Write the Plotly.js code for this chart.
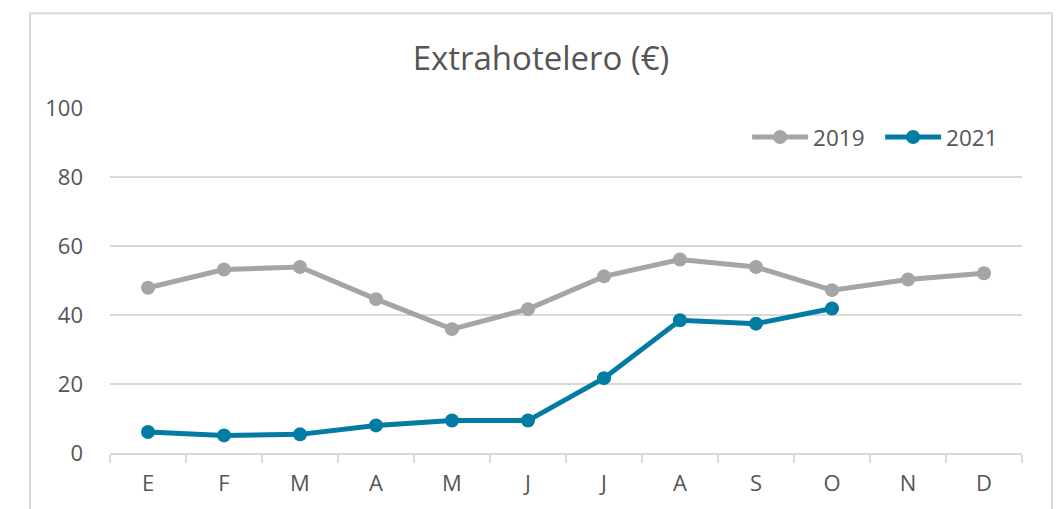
<!DOCTYPE html>
<html>
<head>
<meta charset="utf-8">
<script src="https://cdn.plot.ly/plotly-3.0.1.min.js"></script>
<style>html,body{margin:0;padding:0;background:#fff;}#chart{width:1062px;height:509px;}</style>
</head>
<body>
<div id="chart"></div>
<script>
const months = ["E","F","M","A","M","J","J","A","S","O","N","D"];
const monthKeys = ["m1","m2","m3","m4","m5","m6","m7","m8","m9","m10","m11","m12"];
const values2019 = [47.9, 53.2, 53.9, 44.6, 35.9, 41.7, 51.2, 56.1, 53.9, 47.2, 50.3, 52.1];
const values2021 = [6.1, 5.1, 5.4, 8.0, 9.4, 9.4, 21.7, 38.5, 37.5, 41.9];
const yTicks = [0, 20, 40, 60, 80, 100];
const chartTitle = "Extrahotelero (€)";

const font = "Open Sans, Liberation Sans, sans-serif";
const textColor = "#555555";
const traces = [
  {
    name: "2019", x: monthKeys.slice(0, values2019.length), y: values2019,
    type: "scatter", mode: "lines+markers",
    line: {color: "#a5a5a5", width: 5},
    marker: {color: "#a5a5a5", size: 14}
  },
  {
    name: "2021", x: monthKeys.slice(0, values2021.length), y: values2021,
    type: "scatter", mode: "lines+markers",
    line: {color: "#027ca2", width: 5},
    marker: {color: "#027ca2", size: 14}
  }
];
const layout = {
  width: 1062, height: 509,
  margin: {l: 110, r: 40, t: 108, b: 56, pad: 0},
  paper_bgcolor: "#ffffff", plot_bgcolor: "#ffffff",
  font: {family: font, color: textColor, size: 22},
  title: {text: chartTitle, font: {family: font, size: 33, color: textColor},
          xref: "paper", x: 0.4726, xanchor: "center", yref: "container", y: 0.885, yanchor: "middle"},
  showlegend: true,
  legend: {orientation: "h", x: 0.6986, xanchor: "left", y: 0.915, yanchor: "middle",
           font: {family: font, size: 22.5, color: textColor}, itemwidth: 56, entrywidth: 62,
           bgcolor: "rgba(0,0,0,0)"},
  xaxis: {
    type: "category", categoryarray: monthKeys, categoryorder: "array",
    tickvals: monthKeys, ticktext: months,
    range: [-0.5, 11.5], showgrid: false, zeroline: false,
    showline: true, linecolor: "#d9d9d9", linewidth: 1.5,
    ticks: "outside", tickson: "boundaries", ticklen: 8, tickcolor: "#d9d9d9", tickwidth: 1.5,
    ticklabelstandoff: 10,
    tickfont: {family: font, size: 22, color: textColor}, fixedrange: true
  },
  yaxis: {
    range: [0, 100], tickvals: yTicks, showgrid: true, gridcolor: "#d9d9d9", gridwidth: 1.5,
    zeroline: false, showline: false, ticks: "", ticklabelstandoff: 26,
    tickfont: {family: font, size: 22, color: textColor}, fixedrange: true
  },
  shapes: [
    {type: "rect", xref: "paper", yref: "paper", x0: -0.0877, x1: 1.0329, y0: -0.3, y1: 1.2745,
     line: {color: "#d9d9d9", width: 2}, fillcolor: "rgba(0,0,0,0)", layer: "below"}
  ]
};
Plotly.newPlot("chart", traces, layout, {displayModeBar: false, staticPlot: true});
</script>
</body>
</html>
